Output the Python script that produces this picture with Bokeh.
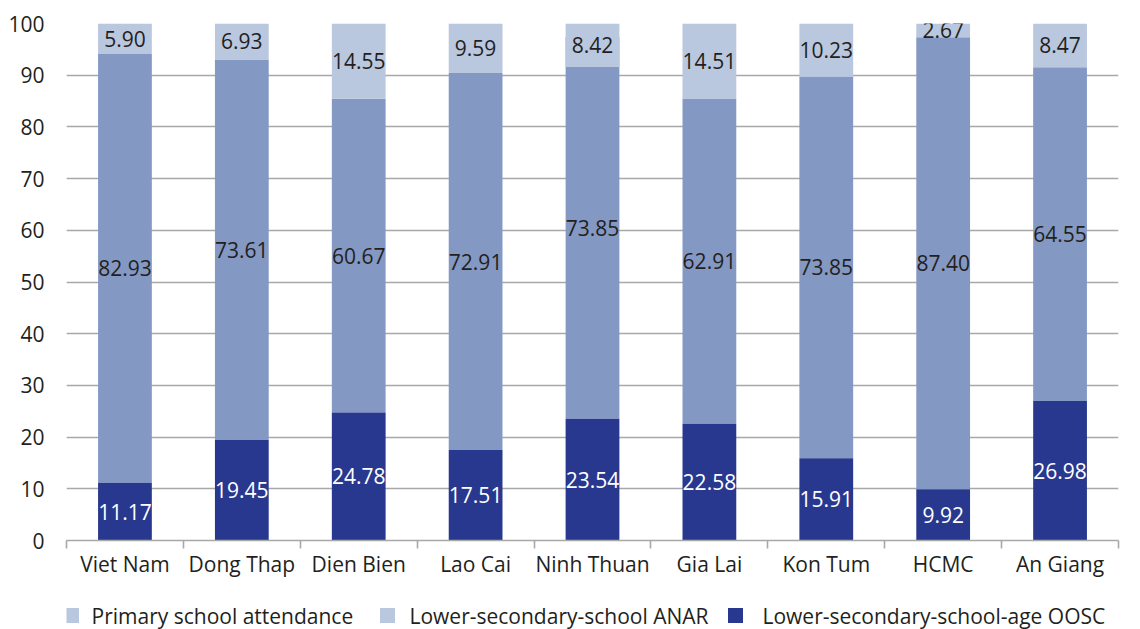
from bokeh.plotting import figure
from bokeh.layouts import column
from bokeh.models import ColumnDataSource, Range1d, FixedTicker
from bokeh.core.properties import value
from bokeh.embed import file_html
from bokeh.resources import INLINE

# Provinces / regions
regions = ["Viet Nam", "Dong Thap", "Dien Bien", "Lao Cai", "Ninh Thuan",
           "Gia Lai", "Kon Tum", "HCMC", "An Giang"]
# Lower-secondary-school-age out-of-school children (%)
lower_sec_oosc = [11.17, 19.45, 24.78, 17.51, 23.54, 22.58, 15.91, 9.92, 26.98]
# Attending primary school (%)
primary_attendance = [82.93, 73.61, 60.67, 72.91, 73.85, 62.91, 73.85, 87.40, 64.55]
# Lower-secondary adjusted net attendance rate (%)
lower_sec_anar = [5.90, 6.93, 14.55, 9.59, 8.42, 14.51, 10.23, 2.67, 8.47]
y_ticks = [0, 10, 20, 30, 40, 50, 60, 70, 80, 90, 100]

legend_labels = ["Primary school attendance", "Lower-secondary-school ANAR",
                 "Lower-secondary-school-age OOSC"]

FONT = value("Open Sans")
TXT = "#231F20"
C_DARK = "#29388F"
C_MID = "#8498C4"
C_LIGHT = "#B9C7DF"
GRID = "#A8A8A8"
FS = "21px"

LEFT, RIGHT = 66, 22          # outer margins around the plotting area (px)
LEG_H = 44                    # height of the legend strip (px)

centers = [i + 0.5 for i in range(len(regions))]

oosc_src = ColumnDataSource(dict(
    x=centers,
    bottom=[0] * len(regions),
    top=lower_sec_oosc,
    ly=[v / 2 for v in lower_sec_oosc],
    lab=[f"{v:.2f}" for v in lower_sec_oosc],
))
prim_src = ColumnDataSource(dict(
    x=centers,
    bottom=lower_sec_oosc,
    top=[a + b for a, b in zip(lower_sec_oosc, primary_attendance)],
    ly=[a + b / 2 for a, b in zip(lower_sec_oosc, primary_attendance)],
    lab=[f"{v:.2f}" for v in primary_attendance],
))
anar_src = ColumnDataSource(dict(
    x=centers,
    bottom=[100 - v for v in lower_sec_anar],
    top=[100] * len(regions),
    ly=[100 - v / 2 for v in lower_sec_anar],
    lab=[f"{v:.2f}" for v in lower_sec_anar],
))

p = figure(width=1140, height=629 - LEG_H, output_backend="svg", toolbar_location=None,
           x_range=Range1d(0, len(regions)), y_range=Range1d(0, 100),
           min_border_left=LEFT, min_border_right=RIGHT, min_border_top=23,
           min_border_bottom=45)
p.outline_line_color = None
p.background_fill_color = "white"
p.border_fill_color = "white"

BAR_W = 0.46
p.vbar(x="x", bottom="bottom", top="top", width=BAR_W, source=prim_src,
       fill_color=C_MID, line_color=None)
p.vbar(x="x", bottom="bottom", top="top", width=BAR_W, source=anar_src,
       fill_color=C_LIGHT, line_color=None)
p.vbar(x="x", bottom="bottom", top="top", width=BAR_W, source=oosc_src,
       fill_color=C_DARK, line_color=None)

label_kw = dict(x="x", y="ly", text="lab", text_align="center",
                text_baseline="middle", text_font=FONT, text_font_size=FS)
p.text(source=prim_src, text_color=TXT, **label_kw)
p.text(source=anar_src, text_color=TXT, **label_kw)
p.text(source=oosc_src, text_color="white", **label_kw)

# y axis: labels only, horizontal grid lines
p.yaxis.ticker = FixedTicker(ticks=y_ticks)
p.yaxis.axis_line_color = None
p.yaxis.major_tick_line_color = None
p.yaxis.minor_tick_line_color = None
p.yaxis.major_label_standoff = 16
p.yaxis.major_label_text_font = "Open Sans"
p.yaxis.major_label_text_font_size = FS
p.yaxis.major_label_text_color = TXT
p.ygrid.ticker = FixedTicker(ticks=y_ticks)
p.ygrid.grid_line_color = GRID
p.ygrid.grid_line_width = 1.6
p.xgrid.grid_line_color = None

# x axis: names at bar centres, short tick marks between categories
p.xaxis.ticker = FixedTicker(ticks=centers, minor_ticks=list(range(len(regions) + 1)))
p.xaxis.major_label_overrides = {c: r for c, r in zip(centers, regions)}
p.xaxis.axis_line_color = GRID
p.xaxis.axis_line_width = 1.6
p.xaxis.major_tick_line_color = None
p.xaxis.major_tick_out = 0
p.xaxis.major_tick_in = 0
p.xaxis.minor_tick_line_color = GRID
p.xaxis.minor_tick_line_width = 1.6
p.xaxis.minor_tick_out = 8
p.xaxis.minor_tick_in = 0
p.xaxis.major_label_standoff = 1
p.xaxis.major_label_text_font = "Open Sans"
p.xaxis.major_label_text_font_size = FS
p.xaxis.major_label_text_color = TXT

# legend strip underneath the chart; its x range is in window pixels
lg = figure(width=1140, height=LEG_H, output_backend="svg", toolbar_location=None,
            x_range=Range1d(LEFT, 1140 - RIGHT), y_range=Range1d(0, LEG_H),
            min_border_left=LEFT, min_border_right=RIGHT,
            min_border_top=0, min_border_bottom=0)
lg.axis.visible = False
lg.grid.visible = False
lg.outline_line_color = None
lg.background_fill_color = "white"
lg.border_fill_color = "white"
lg.scatter(x=[71, 387, 735], y=[14, 14, 14], marker="square", size=15,
           fill_color=[C_LIGHT, C_LIGHT, C_DARK], line_color=None)
lg.text(x=[91, 409, 762], y=[14, 14, 14], text=legend_labels,
        text_align="left", text_baseline="middle", text_font=FONT,
        text_font_size=FS, text_color=TXT)

layout = column(p, lg, spacing=0)
open("out.html", "w").write(file_html(layout, INLINE))
